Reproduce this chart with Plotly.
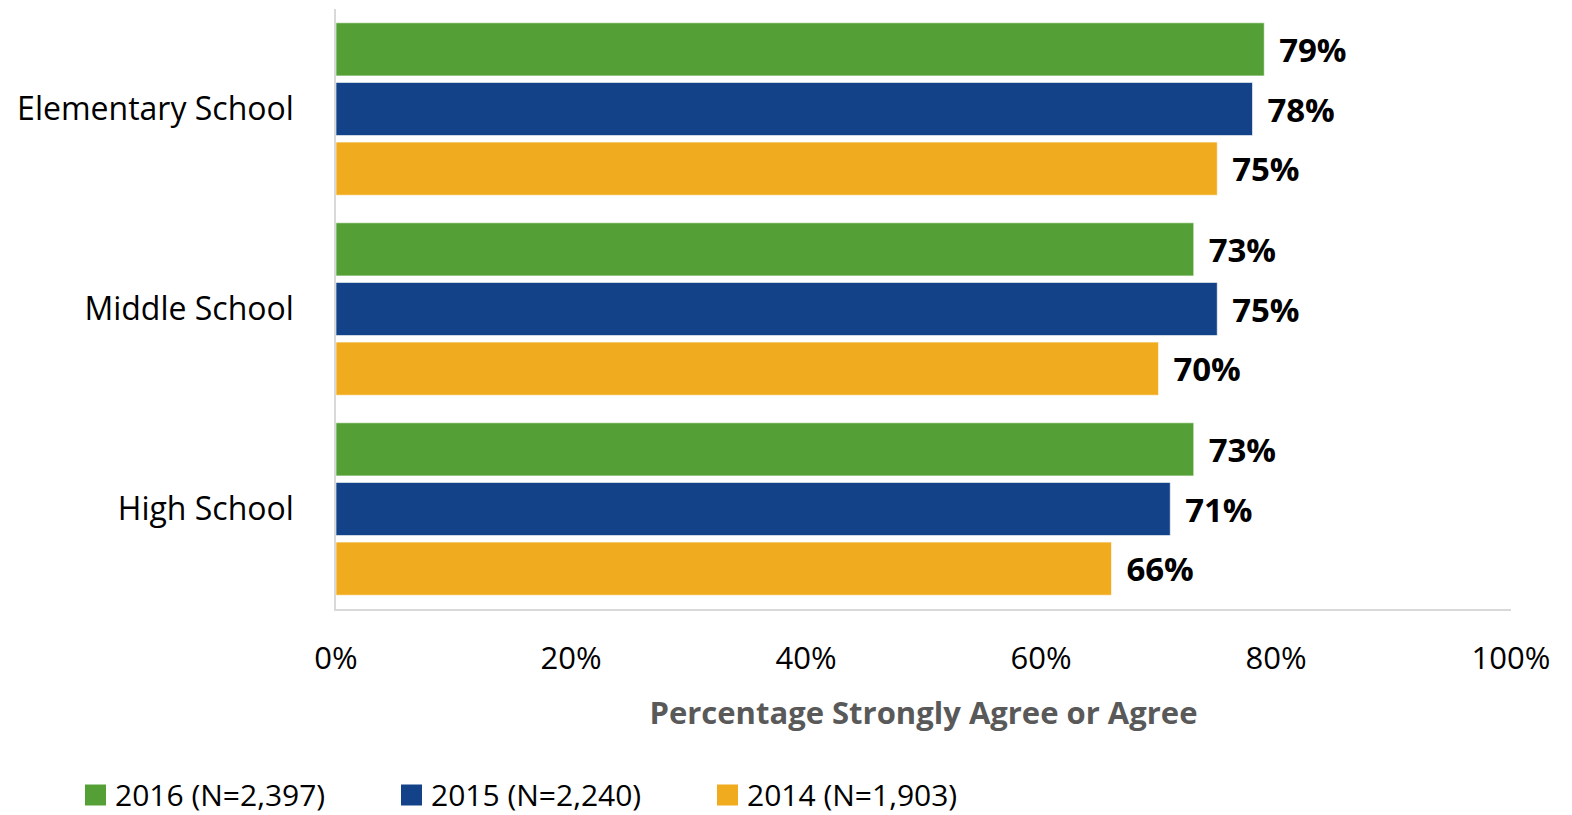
import plotly.graph_objects as go

# Survey results: share of respondents who strongly agree or agree
schools = ["Elementary School", "Middle School", "High School"]
years = ["2016 (N=2,397)", "2015 (N=2,240)", "2014 (N=1,903)"]
pct_2016 = [0.79, 0.73, 0.73]
pct_2015 = [0.78, 0.75, 0.71]
pct_2014 = [0.75, 0.70, 0.66]
colors = ["#55A036", "#134289", "#F0AB1E"]

x_ticks = [0, 0.2, 0.4, 0.6, 0.8, 1.0]
x_tick_text = ["0%", "20%", "40%", "60%", "80%", "100%"]

W, H = 1572, 815
M_L, M_R, M_T, M_B = 336, 61, 9, 206
FONT = "Open Sans, Lato, sans-serif"

fig = go.Figure()
for name, vals, col in zip(years, [pct_2016, pct_2015, pct_2014], colors):
    fig.add_trace(go.Bar(
        y=schools,
        x=vals,
        name=name,
        orientation="h",
        marker=dict(color=col, line=dict(color="rgba(255,255,255,0.6)", width=1)),
        text=[f"{v:.0%}" for v in vals],
        texttemplate="\u00a0\u200a%{text}",
        textposition="outside",
        constraintext="none",
        cliponaxis=False,
        textfont=dict(family=FONT, size=33, color="#000000", weight="bold"),
        showlegend=False,
    ))

fig.update_layout(
    width=W,
    height=H,
    margin=dict(l=M_L, r=M_R, t=M_T, b=M_B, autoexpand=False),
    paper_bgcolor="white",
    plot_bgcolor="white",
    barmode="group",
    bargap=0.105,
    bargroupgap=0.11,
    font=dict(family=FONT, color="#000000"),
    xaxis=dict(
        range=[0, 1],
        tickvals=x_ticks,
        ticktext=x_tick_text,
        tickfont=dict(size=31, color="#000000"),
        showgrid=False,
        zeroline=False,
        showline=True,
        linecolor="#D9D9D9",
        linewidth=1.5,
        ticks="",
        ticklabelstandoff=21,
        automargin=False,
        title=dict(
            text="Percentage Strongly Agree or Agree",
            font=dict(size=31, color="#595959", weight="bold"),
            standoff=25,
        ),
    ),
    yaxis=dict(
        autorange="reversed",
        tickfont=dict(size=32, color="#000000"),
        showgrid=False,
        zeroline=False,
        showline=True,
        linecolor="#D9D9D9",
        linewidth=1.5,
        ticks="",
        ticklabelstandoff=34,
        automargin=False,
    ),
)

# Legend drawn as colour swatches with labels beneath the axis title
plot_w = W - M_L - M_R
plot_h = H - M_T - M_B


def px_x(p):
    return (p - M_L) / plot_w


def px_y(p):
    return (H - M_B - p) / plot_h


swatch_left = [85, 401, 717]
swatch_size = 21
legend_mid = 795
for name, col, left in zip(years, colors, swatch_left):
    fig.add_shape(
        type="rect", xref="paper", yref="paper",
        x0=px_x(left), x1=px_x(left + swatch_size),
        y0=px_y(legend_mid + swatch_size / 2), y1=px_y(legend_mid - swatch_size / 2),
        fillcolor=col, line=dict(width=0),
    )
    fig.add_annotation(
        xref="paper", yref="paper",
        x=px_x(left + swatch_size + 8), y=px_y(legend_mid - 1),
        xanchor="left", yanchor="middle",
        text=name, showarrow=False, borderpad=0,
        font=dict(family=FONT, size=30, color="#000000"),
    )

fig.write_html("out.html")
